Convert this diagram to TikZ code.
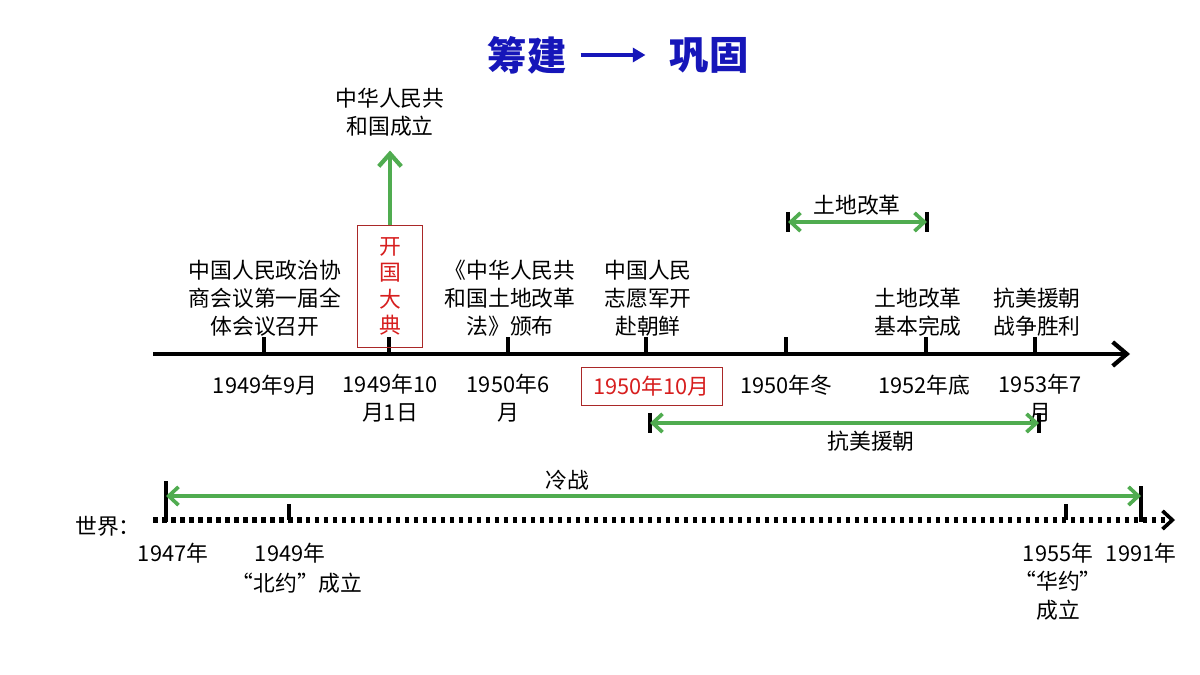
\documentclass[tikz,border=0pt]{standalone}
\usepackage{fontspec}
\setmainfont{Noto Sans CJK SC}
\usetikzlibrary{arrows.meta}
\definecolor{gr}{RGB}{80,172,80}
\definecolor{tblue}{RGB}{22,22,185}
\definecolor{rdbox}{RGB}{170,40,40}
\definecolor{rdtxt}{RGB}{215,30,30}
\begin{document}
\begin{tikzpicture}[x=0.025cm,y=-0.025cm,
  every node/.style={font=\fontsize{15.5}{20}\selectfont, align=center, inner sep=0pt},
  axisline/.style={line width=3.5pt, -{Straight Barb[length=10pt,width=17pt,line width=3pt]}},
  tickmark/.style={line width=2.8pt},
  garrow/.style={draw=gr, line width=3pt, {Straight Barb[length=7pt,width=13pt,line width=2.6pt]}-{Straight Barb[length=7pt,width=13pt,line width=2.6pt]}},
  gup/.style={draw=gr, line width=3.5pt, -{Straight Barb[length=9pt,width=16pt,line width=3pt]}},
  endbar/.style={line width=2.8pt},
  dotline/.style={line width=3.6pt, dash pattern=on 3.2pt off 3.2pt, -{Straight Barb[length=7pt,width=13pt,line width=2.6pt]}},
  redbox/.style={draw=rdbox, line width=0.7pt, text=rdtxt},
  titlefont/.style={font=\fontsize{28}{32}\selectfont\bfseries, text=tblue}
]
\useasboundingbox (0,0) rectangle (1200,675);
\fill[white] (0,0) rectangle (1200,675);

% title
\node[titlefont] (t1) at (527,55) {筹建};
\node[titlefont] (t2) at (709,55) {巩固};
\draw[tblue, line width=3pt, -{Triangle[length=9pt,width=10pt]}] ([xshift=10]t1.east) -- ([xshift=-17]t2.west);

% main axis
\coordinate (a0) at (153,354);
\coordinate (a1) at (1130,354);
\draw[axisline] (a0) -- (a1);
\foreach \x/\n in {264/k1,389/k2,508/k3,646/k4,786/k5,926/k6,1035/k7}{
  \coordinate (\n) at (\x,354);
  \draw[tickmark] (\n) -- ++(0,-17);
}

% labels above
\node (e1) at (265,298) {中国人民政治协\\商会议第一届全\\体会议召开};
\node (e3) at (510,298) {《中华人民共\\和国土地改革\\法》颁布};
\node (e4) at (648,298) {中国人民\\志愿军开\\赴朝鲜};
\node (e6) at (918,312) {土地改革\\基本完成};
\node (e7) at (1037,312) {抗美援朝\\战争胜利};

% 开国大典
\node[redbox, minimum width=1.625cm, minimum height=3.025cm,
      font=\fontsize{15.5}{18.8}\selectfont] (kg) at (390,286.5) {开\\国\\大\\典};
\node (prc) at (390,112) {中华人民共\\和国成立};
\draw[gup] (kg.north) -- ([yshift=-10]prc.south);

% dates below
\node (d1) at (265,385) {1949年9月};
\node (d2) at (390,398) {1949年10\\月1日};
\node (d3) at (508,398) {1950年6\\月};
\node[redbox, minimum width=3.525cm, minimum height=0.95cm] (d4) at (651.5,386) {1950年10月};
\node (d5) at (786,385) {1950年冬};
\node (d6) at (924,385) {1952年底};
\node (d7) at (1040,398) {1953年7\\月};

% 土地改革 range
\coordinate (l0) at (788,222);
\coordinate (l1) at (927,222);
\draw[endbar] (l0) ++(0,-10) -- ++(0,20);
\draw[endbar] (l1) ++(0,-10) -- ++(0,20);
\draw[garrow] (l0) -- (l1);
\node (lr) at (857,205) {土地改革};

% 抗美援朝 range
\coordinate (m0) at (650,423);
\coordinate (m1) at (1039,423);
\draw[endbar] (m0) ++(0,-10) -- ++(0,20);
\draw[endbar] (m1) ++(0,-10) -- ++(0,20);
\draw[garrow] (m0) -- (m1);
\node (mr) at (871,441) {抗美援朝};

% world line
\node (world) at (108,526) {世界：};
\coordinate (w0) at (153,520);
\coordinate (w1) at (1175,520);
\draw[dotline] (w0) -- (w1);
\coordinate (c0) at (166,496);
\coordinate (c1) at (1141,496);
\draw[endbar] (166,481) -- (166,522);
\draw[endbar] (1141,486) -- (1141,522);
\draw[endbar] (289,504) -- (289,520);
\draw[endbar] (1066,504) -- (1066,520);
\draw[garrow] (c0) -- (c1);
\node (cw) at (567,480) {冷战};

\node (y47) at (173,553) {1947年};
\node (y49) at (290,553) {1949年};
\node (nato) at (297,583) {“北约”成立};
\node (y55) at (1058,567) {1955年\\“华约”};
\node (wp) at (1058,610) {成立};
\node (y91) at (1141,553) {1991年};
\end{tikzpicture}
\end{document}
